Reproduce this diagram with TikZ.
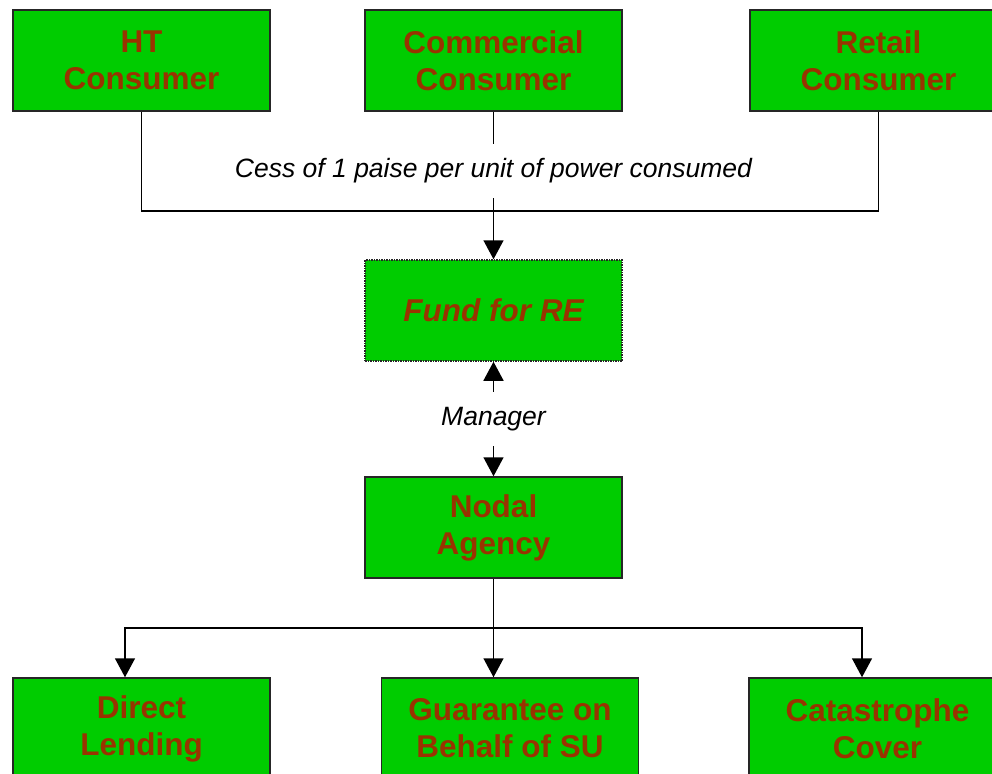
\documentclass[tikz,border=0pt]{standalone}
\usepackage{fontspec}
\setmainfont{Liberation Sans}
\usetikzlibrary{arrows.meta}
\definecolor{boxgreen}{HTML}{00CC00}
\definecolor{boxbrown}{HTML}{993300}
\tikzset{
  box/.style={draw=black!85, line width=1.5pt, fill=boxgreen, text=boxbrown,
    minimum width=257pt, minimum height=101pt, inner sep=0pt, align=center,
    font=\fontsize{31.5}{37}\selectfont\bfseries},
  fundbox/.style={box, densely dotted, font=\fontsize{31.5}{37}\selectfont\bfseries\itshape},
  lbl/.style={fill=white, inner xsep=2pt, minimum height=54pt,
    font=\fontsize{26.5}{30}\selectfont\itshape},
  link/.style={line width=1.5pt},
  arr/.style={link, -{Triangle[length=19pt,width=20pt]}}
}
\begin{document}
\begin{tikzpicture}[x=1pt,y=-1pt]
\useasboundingbox (0,0) rectangle (992,773);
\node[box] (ht) at (141.5,60.5){HT\\Consumer};
\node[box] (comm) at (493.5,60.5){Commercial\\Consumer};
\node[box] (retail) at (878.5,60.5){Retail\\Consumer};
\node[fundbox] (fund) at (493.5,310.5){Fund for RE};
\node[box] (nodal) at (493.5,527.5){Nodal\\Agency};
\node[box] (direct) at (141.5,728.5){Direct\\Lending};
\node[box] (guar) at (510,728.5){Guarantee on\\Behalf of SU};
\node[box] (cat) at (877.5,728.5){Catastrophe\\Cover};
\coordinate (cessjoin) at (493.5,211);
\coordinate (split) at (493.5,628);
\draw[link](ht.south) |- (cessjoin) -| (retail.south);
\draw[arr](comm.south) -- (fund.north);
\node[lbl] (cess) at (493.5,171){Cess of 1 paise per unit of power consumed};
\draw[arr, {Triangle[length=19pt,width=20pt]}-{Triangle[length=19pt,width=20pt]}](fund.south) -- node[lbl] (mgr){Manager} (nodal.north);
\draw[link](nodal.south) -- (split);
\draw[arr](split) -| ([xshift=-16.5pt]direct.north);
\draw[arr](split) -- ([xshift=-16.5pt]guar.north);
\draw[arr](split) -| ([xshift=-15.5pt]cat.north);
\end{tikzpicture}
\end{document}
